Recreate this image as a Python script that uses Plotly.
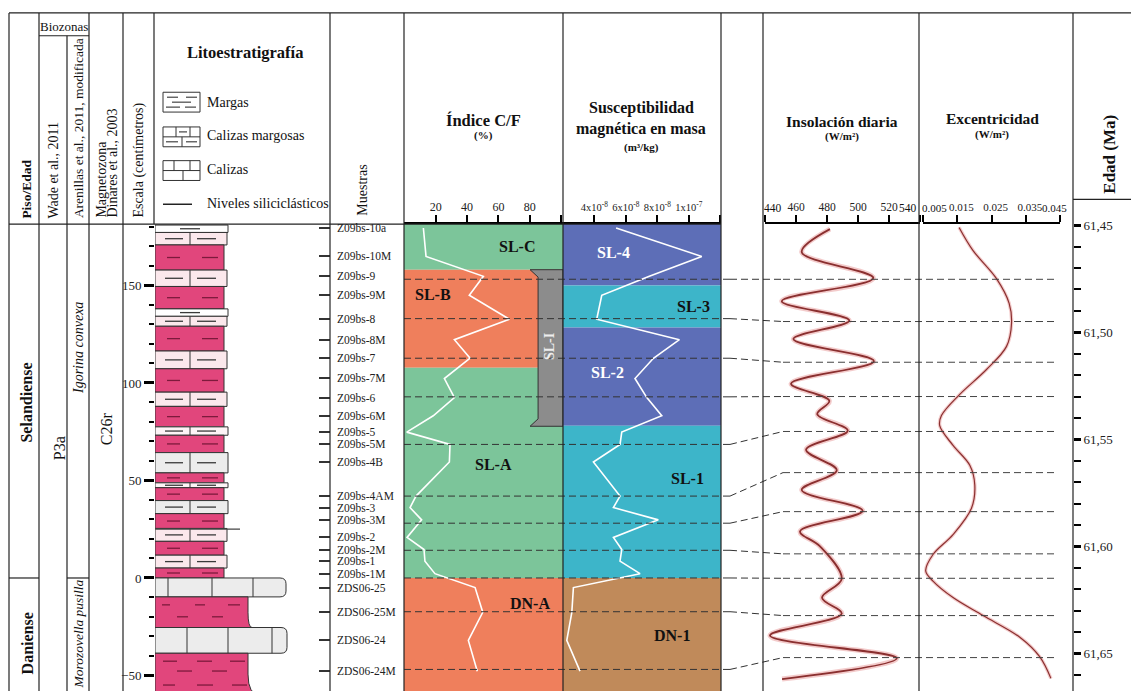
import plotly.graph_objects as go

W, H = 1131, 691
FONT = "Liberation Serif, Times New Roman, serif"

# ---------------- data ----------------
samples = ["Z09bs-10a", "Z09bs-10M", "Z09bs-9", "Z09bs-9M", "Z09bs-8", "Z09bs-8M",
           "Z09bs-7", "Z09bs-7M", "Z09bs-6", "Z09bs-6M", "Z09bs-5", "Z09bs-5M",
           "Z09bs-4B", "Z09bs-4AM", "Z09bs-3", "Z09bs-3M", "Z09bs-2", "Z09bs-2M",
           "Z09bs-1", "Z09bs-1M", "ZDS06-25", "ZDS06-25M", "ZDS06-24", "ZDS06-24M"]
sample_cm = [179.5, 164.9, 154.7, 145.0, 132.7, 122.2, 112.7, 102.3, 92.5, 83.2, 74.8, 68.5,
             59.5, 42.0, 36.1, 29.8, 20.8, 14.6, 8.6, 2.2, -4.9, -17.6, -32.0, -47.8]
cf_index = [12.1, 13.8, 50.4, 41.4, 67.0, 31.9, 41.9, 25.5, 31.9, 18.4, 1.5, 29.1,
            28.7, 7.4, 3.6, 11.0, 1.7, 12.5, 13.1, 19.5, 45.1, 50.0, 40.8, 46.5]
susc_e8 = [5.38, 10.82, 7.49, 4.47, 4.15, 9.40, 7.75, 6.58, 7.33, 8.28, 5.74, 5.63,
           3.94, 5.63, 5.21, 8.06, 5.21, 5.74, 5.63, 6.90, 2.67, 2.57, 2.25, 3.09]

insol_age = [61.4519, 61.4626, 61.4747, 61.4855, 61.4945, 61.5032, 61.5135, 61.5240,
             61.5320, 61.5382, 61.5459, 61.5548, 61.5644, 61.5736, 61.5833, 61.5929,
             61.5999, 61.6151, 61.6239, 61.6313, 61.6415, 61.6521, 61.6618]
insol_val = [481.9, 463.7, 509.9, 450.8, 494.4, 458.3, 510.3, 456.8, 481.5, 473.7,
             493.4, 466.5, 486.3, 463.7, 503.0, 462.6, 475.5, 489.5, 476.8, 489.5,
             443.2, 525.0, 451.0]

ecc_age = [61.4511, 61.4619, 61.4750, 61.4865, 61.4958, 61.5066, 61.5174, 61.5290,
           61.5389, 61.5436, 61.5528, 61.5621, 61.5713, 61.5821, 61.5944, 61.6037,
           61.6114, 61.6161, 61.6238, 61.6322, 61.6423, 61.6515, 61.6615]
ecc_val = [0.01553, 0.01962, 0.02646, 0.03015, 0.03085, 0.02939, 0.02354, 0.01573,
           0.01038, 0.00988, 0.01377, 0.01866, 0.02012, 0.01915, 0.01377, 0.00792,
           0.00579, 0.00792, 0.01377, 0.02254, 0.03327, 0.03912, 0.04234]

litho_top = [181.0, 177.2, 170.8, 157.9, 149.5, 138.0, 134.2, 129.1, 116.4, 107.3,
             95.3, 88.0, 77.5, 73.2, 64.3, 53.9, 48.8, 46.3, 39.7, 33.0, 25.4, 18.8,
             11.7, 5.1, 0.0, -9.7, -25.4, -38.6]
litho_bot = litho_top[1:] + [-60.0]
litho_type = ["w1", "p", "m", "p", "m", "w1", "p", "m", "p", "m", "p", "m", "wp", "m",
              "g", "m", "wp", "m", "g", "m", "p", "m", "p", "m", "c", "M1", "c2", "M2"]
silici_cm = [25.1]

cf_zones = ["SL-C", "SL-B", "SL-A", "DN-A"]
cf_zone_top = [181.5, 158.1, 107.8, 0.0]
cf_zone_bot = [158.1, 107.8, 0.0, -60.0]
cf_zone_x = [71.7, 18.3, 56.6, 80.2]
cf_zone_cm = [170.0, 145.4, 58.0, -13.2]
sl1_top, sl1_bot = 158.1, 77.8

susc_zones = ["SL-4", "SL-3", "SL-2", "SL-1", "DN-1"]
susc_zone_top = [181.5, 150.0, 128.5, 78.1, 0.0]
susc_zone_bot = [150.0, 128.5, 78.1, 0.0, -60.0]
susc_zone_x = [5.19, 10.27, 4.81, 9.89, 8.93]
susc_zone_cm = [166.8, 139.3, 105.2, 50.8, -29.5]

corr_cm = [153.2, 133.0, 112.7, 92.9, 68.5, 42.0, 28.1, 14.2, 0.0, -17.3, -46.9]
corr_age = [61.4753, 61.4950, 61.5140, 61.5300, 61.5463, 61.5655, 61.5837, 61.6034,
            61.6148, 61.6322, 61.6518]

age_ticks = [61.45, 61.50, 61.55, 61.60, 61.65]
age_labels = ["61,45", "61,50", "61,55", "61,60", "61,65"]
cf_ticks = [20, 40, 60, 80]
cf_edge_ticks = [100]
susc_ticks = [4, 6, 8, 10]
susc_labels = ["4x10<sup>-8</sup>", "6x10<sup>-8</sup>", "8x10<sup>-8</sup>", "1x10<sup>-7</sup>"]
susc_edge_ticks = [2, 12]
insol_ticks = [460, 480, 500, 520]
insol_edge_ticks = [440, 540]
ecc_ticks = [0.015, 0.025, 0.035]
ecc_edge_ticks = [0.005, 0.045]

# ---------------- geometry helpers ----------------
def px(x):
    return x / W

def py(y):
    return 1 - y / H

BODY = [0.0, py(220)]
CM_RANGE = [-57.96, 181.49]
AGE_RANGE = [61.66739, 61.44954]

def cm_paper(c):
    return BODY[0] + (c - CM_RANGE[0]) / (CM_RANGE[1] - CM_RANGE[0]) * (BODY[1] - BODY[0])

def age_paper(a):
    return BODY[0] + (a - AGE_RANGE[0]) / (AGE_RANGE[1] - AGE_RANGE[0]) * (BODY[1] - BODY[0])

shapes = []
annotations = []

def pline(x0, y0, x1, y1, color="#222", width=1.2, dash=None, layer="above"):
    d = dict(color=color, width=width)
    if dash:
        d["dash"] = dash
    shapes.append(dict(type="line", xref="paper", yref="paper", x0=px(x0), y0=py(y0),
                       x1=px(x1), y1=py(y1), line=d, layer=layer))

def prect(x0, y0, x1, y1, fill="white", color="#333", width=1):
    shapes.append(dict(type="rect", xref="paper", yref="paper", x0=px(x0), y0=py(y0),
                       x1=px(x1), y1=py(y1), fillcolor=fill, line=dict(color=color, width=width)))

def ann(text, x, y, size=13, angle=0, xa="center", ya="middle", color="#111",
        xref="paper", yref="paper", xshift=0):
    if xref == "paper":
        x = px(x)
    if yref == "paper":
        y = py(y)
    annotations.append(dict(text=text, x=x, y=y, xref=xref, yref=yref, showarrow=False,
                            textangle=angle, xanchor=xa, yanchor=ya, xshift=xshift,
                            font=dict(family=FONT, size=size, color=color)))

# ---------------- colours ----------------
GREEN = "#7cc59a"
ORANGE = "#ef7f5c"
BLUE = "#5d6eb7"
CYAN = "#3db5c9"
BROWN = "#c08a5a"
GREY = "#8c8c8c"
MAGENTA = "#e1467c"
PINK = "#fbe8ec"
LGREY = "#ececec"

cf_zone_col = [GREEN, ORANGE, GREEN, ORANGE]
susc_zone_col = [BLUE, CYAN, BLUE, CYAN, BROWN]
susc_zone_txt = ["white", "#111", "white", "#111", "#111"]

# ---------------- zone bands ----------------
for t, b, c in zip(cf_zone_top, cf_zone_bot, cf_zone_col):
    shapes.append(dict(type="rect", xref="x domain", yref="y", x0=0, x1=1, y0=b, y1=t,
                       fillcolor=c, line=dict(width=0), layer="below"))
shapes.append(dict(type="path", xref="x", yref="y", layer="below",
                   path=(f"M 80.2,{sl1_top} L 101.2,{sl1_top} L 101.2,{sl1_bot} L 80.2,{sl1_bot} "
                         f"L 85.3,{sl1_bot + 3.8} L 85.3,{sl1_top - 3.8} Z"),
                   fillcolor=GREY, line=dict(color="#333", width=1)))
for t, b, c in zip(susc_zone_top, susc_zone_bot, susc_zone_col):
    shapes.append(dict(type="rect", xref="x2 domain", yref="y", x0=0, x1=1, y0=b, y1=t,
                       fillcolor=c, line=dict(width=0), layer="below"))

for name, x, c in zip(cf_zones, cf_zone_x, cf_zone_cm):
    ann(f"<b>{name}</b>", x, c, size=16, xref="x", yref="y")
ann("<b>SL-I</b>", 93.0, 118.5, size=14, angle=-90, color="#eeeeee", xref="x", yref="y")
for name, x, c, tc in zip(susc_zones, susc_zone_x, susc_zone_cm, susc_zone_txt):
    ann(f"<b>{name}</b>", x, c, size=16, color=tc, xref="x2", yref="y")

# ---------------- lithology column (x5 units = px from column edge) ----------------
RIGHT = {"w1": 73, "wp": 73, "p": 72, "m": 69, "g": 73, "c": 131, "c2": 132, "M1": 93, "M2": 93}
FILL = {"w1": "white", "wp": "#fdf4f6", "p": PINK, "m": MAGENTA, "g": LGREY, "c": LGREY,
        "c2": LGREY, "M1": MAGENTA, "M2": MAGENTA}
DASH_DARK = "#3a3a3a"
DASH_MAG = "#7d1a3c"

def lseg(x0, x1, y0, y1, color, width=1.3):
    shapes.append(dict(type="line", xref="x5", yref="y", x0=x0, x1=x1, y0=y0, y1=y1,
                       line=dict(color=color, width=width)))

for top, bot, typ in zip(litho_top, litho_bot, litho_type):
    r = RIGHT[typ]
    mid = (top + bot) / 2
    if typ in ("c", "c2"):
        shapes.append(dict(type="path", xref="x5", yref="y",
                           path=(f"M 0,{bot} L {r-6},{bot} Q {r},{bot} {r},{bot+3} "
                                 f"L {r},{top-3} Q {r},{top} {r-6},{top} L 0,{top} Z"),
                           fillcolor=FILL[typ], line=dict(color="#333", width=1)))
        divs = [13, 57, 98] if typ == "c" else [32, 73, 117]
        for d in divs:
            lseg(d, d, bot, top, "#333", 1)
    elif typ in ("M1", "M2"):
        flare = 4 if typ == "M1" else 12
        shapes.append(dict(type="path", xref="x5", yref="y",
                           path=(f"M 0,{top} L {r},{top} L {r},{mid} "
                                 f"Q {r},{bot} {r+flare},{bot} L 0,{bot} Z"),
                           fillcolor=FILL[typ], line=dict(color="#333", width=1)))
        h = top - bot
        rows = ([(0.26, [(7, 15), (40, 50), (73, 85)]), (0.65, [(22, 33), (57, 68)])]
                if typ == "M1" else
                [(0.21, [(8, 22), (42, 57), (75, 90)]), (0.47, [(22, 37), (57, 72)]),
                 (0.84, [(8, 20), (42, 58), (77, 92)])])
        if typ == "M2":
            h = top - (-58.0)
        for frac, segs in rows:
            yy = top - frac * h
            for a, b in segs:
                lseg(a, b, yy, yy, DASH_MAG, 1.3)
    else:
        shapes.append(dict(type="rect", xref="x5", yref="y", x0=0, x1=r, y0=bot, y1=top,
                           fillcolor=FILL[typ], line=dict(color="#333", width=1)))
        if typ == "w1":
            lseg(25, 45, mid, mid, DASH_DARK)
        elif typ == "m":
            lseg(12, 25, mid, mid, DASH_MAG)
            lseg(47, 63, mid, mid, DASH_MAG)
        else:
            lseg(35, 35, bot, top, "#333", 1)
            lseg(10, 28, mid, mid, DASH_DARK)
            lseg(42, 61, mid, mid, DASH_DARK)

for c in silici_cm:
    lseg(0, 85, c, c, "#444", 1.2)

# ---------------- correlation dashed lines ----------------
DASH = "7px,4px"
for c, a in zip(corr_cm, corr_age):
    shapes.append(dict(type="line", xref="paper", yref="y", x0=px(404), x1=px(730), y0=c, y1=c,
                       line=dict(color="#333", width=1, dash=DASH)))
    shapes.append(dict(type="line", xref="paper", yref="paper", x0=px(730), x1=px(783),
                       y0=cm_paper(c), y1=age_paper(a), line=dict(color="#333", width=1, dash=DASH)))
    shapes.append(dict(type="line", xref="paper", yref="y2", x0=px(783), x1=px(1055), y0=a, y1=a,
                       line=dict(color="#444", width=1, dash=DASH)))

# ---------------- frame lines ----------------
pline(9, 7, 1131, 7)
for x in [9, 39, 89, 123, 330, 404, 563, 721, 763, 919, 1073]:
    pline(x, 7, x, 691)
pline(67, 30, 67, 691)
pline(154, 7, 154, 220)
pline(39, 30, 89, 30)
pline(9, 220, 721, 220)
pline(1073, 195, 1131, 195)
pline(9, 577, 39, 577)
pline(67, 577, 89, 577)

# ---------------- header texts ----------------
ann("<b>Piso/Edad</b>", 27, 216, 13.5, -90, ya="bottom")
ann("Biozonas", 64, 21, 13)
ann("Wade et al., 2011", 54, 216, 14, -90, ya="bottom")
ann("Arenillas et al., 2011, modificada", 78, 216, 13.5, -90, ya="bottom")
ann("Magnetozona", 102, 216, 14, -90, ya="bottom")
ann("Dinares et al., 2003", 113, 216, 14, -90, ya="bottom")
ann("Escala (centímetros)", 139, 216, 14, -90, ya="bottom")
ann("<b>Litoestratigrafía</b>", 245, 47, 16.5)
ann("Muestras", 363, 214, 14, -90, ya="bottom")

prect(163, 87, 200, 107)
for y, segs in [(92, [(167, 178), (186, 197)]), (97, [(172, 191)]), (102, [(166, 180), (185, 196)])]:
    for a, b in segs:
        pline(a, y, b, y, "#333", 1.1)
prect(163, 122, 200, 142)
pline(163, 132, 200, 132, "#333", 1)
pline(176, 122, 176, 132, "#333", 1)
pline(190, 122, 190, 132, "#333", 1)
pline(182, 132, 182, 142, "#333", 1)
pline(179, 127, 187, 127, "#333", 1.1)
pline(166, 137, 178, 137, "#333", 1.1)
pline(186, 137, 197, 137, "#333", 1.1)
prect(163, 156, 200, 176)
pline(163, 166, 200, 166, "#333", 1)
pline(174, 156, 174, 166, "#333", 1)
pline(190, 156, 190, 166, "#333", 1)
pline(183, 166, 183, 176, "#333", 1)
pline(163, 200, 192, 200, "#222", 1.5)
ann("Margas", 205, 97, 14, xa="left")
ann("Calizas margosas", 205, 131, 14, xa="left")
ann("Calizas", 205, 165, 14, xa="left")
ann("Niveles siliciclásticos", 205, 199, 14, xa="left")

ann("<b>Índice C/F</b>", 484, 115, 16.5)
ann("<b>(%)</b>", 484, 131, 11)
ann("<b>Susceptibilidad</b>", 641, 103, 16)
ann("<b>magnética en masa</b>", 641, 124, 16)
ann("<b>(m³/kg)</b>", 641, 143, 11)
ann("<b>Insolación diaria</b>", 842, 117, 15.5)
ann("<b>(W/m²)</b>", 842, 132, 11)
ann("<b>Excentricidad</b>", 992, 113, 15.5)
ann("<b>(W/m²)</b>", 992, 130, 11)
ann("<b>Edad (Ma)</b>", 1110, 150, 17, -90)

ann(str(insol_edge_ticks[0]), insol_edge_ticks[0], 204, 11.5, xa="left", xref="x3", xshift=-3)
ann(str(insol_edge_ticks[1]), insol_edge_ticks[1], 204, 11.5, xa="right", xref="x3", xshift=-1)
ann(f"{ecc_edge_ticks[0]:.3f}", ecc_edge_ticks[0], 204, 11, xa="left", xref="x4", xshift=-3)
ann(f"{ecc_edge_ticks[1]:.3f}", ecc_edge_ticks[1], 204, 11, xa="right", xref="x4", xshift=9)

ann("<b>Selandiense</b>", 27, 400, 16, -90)
ann("<b>Daniense</b>", 27, 643, 16, -90)
ann("P3a", 59, 446, 16, -90)
ann("<i>Igorina convexa</i>", 78, 345, 14, -90)
ann("<i>Morozovella pusilla</i>", 78, 634, 13.5, -90)
ann("C26r", 106, 427, 16, -90)

for name, c in zip(samples, sample_cm):
    ann(name, 335, c, 11.5, xa="left", yref="y", color="#222")

# ---------------- traces ----------------
fig = go.Figure()
fig.add_trace(go.Scatter(x=cf_index, y=sample_cm, xaxis="x", yaxis="y", mode="lines",
                         line=dict(color="white", width=1.6), hoverinfo="skip"))
fig.add_trace(go.Scatter(x=susc_e8, y=sample_cm, xaxis="x2", yaxis="y", mode="lines",
                         line=dict(color="white", width=1.6), hoverinfo="skip"))
fig.add_trace(go.Scatter(x=insol_val, y=insol_age, xaxis="x3", yaxis="y2", mode="lines",
                         line=dict(color="rgba(228,140,140,0.45)", width=5, shape="spline"),
                         hoverinfo="skip"))
fig.add_trace(go.Scatter(x=insol_val, y=insol_age, xaxis="x3", yaxis="y2", mode="lines",
                         line=dict(color="#8a2f2f", width=1.8, shape="spline"), hoverinfo="skip"))
fig.add_trace(go.Scatter(x=ecc_val, y=ecc_age, xaxis="x4", yaxis="y2", mode="lines",
                         line=dict(color="rgba(228,140,140,0.45)", width=3.5, shape="spline"),
                         hoverinfo="skip"))
fig.add_trace(go.Scatter(x=ecc_val, y=ecc_age, xaxis="x4", yaxis="y2", mode="lines",
                         line=dict(color="#8a2f2f", width=1.2, shape="spline"), hoverinfo="skip"))
fig.add_trace(go.Scatter(x=[None], y=[None], xaxis="x5", yaxis="y", showlegend=False))
fig.add_trace(go.Scatter(x=[None], y=[None], xaxis="x5", yaxis="y3", showlegend=False))

def top_axis(size, edge):
    return dict(side="top", ticks="outside", ticklen=7, tickwidth=1.5, tickcolor="black",
                showline=True, linecolor="black", linewidth=1.5, showgrid=False,
                zeroline=False, tickfont=dict(family=FONT, size=size, color="#222"),
                fixedrange=True,
                minor=dict(tickmode="array", tickvals=edge, ticks="outside", ticklen=7,
                           tickwidth=1.5, tickcolor="black", showgrid=False))

fig.update_layout(
    width=W, height=H, autosize=False,
    margin=dict(l=0, r=0, t=0, b=0),
    paper_bgcolor="white", plot_bgcolor="rgba(0,0,0,0)",
    showlegend=False,
    xaxis=dict(domain=[px(404), px(563)], range=[-0.26, 101.2], anchor="y",
               tickmode="array", tickvals=cf_ticks, ticktext=[str(v) for v in cf_ticks],
               **top_axis(12, cf_edge_ticks)),
    xaxis2=dict(domain=[px(563), px(721)], range=[2.01, 12.04], anchor="y",
                tickmode="array", tickvals=susc_ticks, ticktext=susc_labels,
                **top_axis(10.5, susc_edge_ticks)),
    xaxis3=dict(domain=[px(765), px(920)], range=[440, 540], anchor="y2",
                tickmode="array", tickvals=insol_ticks,
                ticktext=[str(v) for v in insol_ticks], **top_axis(11.5, insol_edge_ticks)),
    xaxis4=dict(domain=[px(923), px(1060)], range=[0.005, 0.045], anchor="y2",
                tickmode="array", tickvals=ecc_ticks, ticklabelshift=4,
                ticktext=[f"{v:.3f}" for v in ecc_ticks], **top_axis(11, ecc_edge_ticks)),
    xaxis5=dict(domain=[px(155), px(330)], range=[0, 175], anchor="y", visible=False,
                fixedrange=True),
    yaxis=dict(domain=BODY, range=CM_RANGE, anchor="free", position=px(154), side="left",
               tickmode="linear", tick0=0, dtick=50, ticks="outside", ticklen=10,
               tickwidth=2.5, tickcolor="black", showline=False, showgrid=False,
               zeroline=False, tickfont=dict(family=FONT, size=13, color="#222"),
               minor=dict(tick0=0, dtick=10, ticks="outside", ticklen=5, tickwidth=1.5,
                          tickcolor="black", showgrid=False), fixedrange=True),
    yaxis3=dict(range=CM_RANGE, overlaying="y", anchor="free", position=px(330), side="left",
                tickmode="array", tickvals=sample_cm, ticks="outside", ticklen=11,
                tickwidth=1.5, tickcolor="#333", showticklabels=False, showline=False,
                showgrid=False, zeroline=False, fixedrange=True),
    yaxis2=dict(domain=BODY, range=AGE_RANGE, anchor="free", position=px(1073), side="right",
                tickmode="array", tickvals=age_ticks, ticktext=age_labels, ticks="outside",
                ticklen=7, tickwidth=3, tickcolor="black", showline=False, showgrid=False,
                zeroline=False, tickfont=dict(family=FONT, size=13, color="#222"),
                minor=dict(tick0=61.45, dtick=0.01, ticks="outside", ticklen=7, tickwidth=1.5,
                           tickcolor="black", showgrid=False), fixedrange=True),
    shapes=shapes,
    annotations=annotations,
)

POST = ("document.body.style.margin='0';document.body.style.overflow='hidden';"
        "var d=document.getElementById('{plot_id}');d.style.position='absolute';"
        "d.style.left='0px';d.style.top='0px';")
fig.write_html("out.html", post_script=POST, config={"displayModeBar": False})
